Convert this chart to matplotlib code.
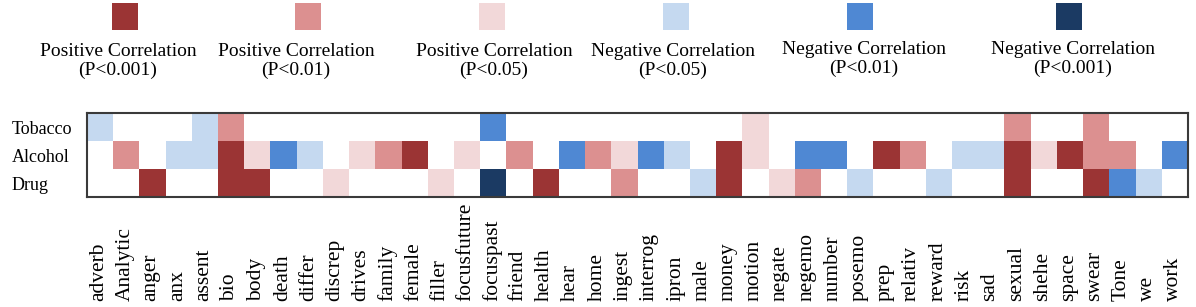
import numpy as np
import matplotlib
matplotlib.use("Agg")
import matplotlib.pyplot as plt
from matplotlib.colors import ListedColormap, BoundaryNorm
from matplotlib.patches import Rectangle
from matplotlib.transforms import blended_transform_factory

plt.rcParams['font.family'] = ['Liberation Serif', 'DejaVu Serif']

# LIWC categories (columns)
categories = ['adverb', 'Analytic', 'anger', 'anx', 'assent', 'bio', 'body', 'death',
              'differ', 'discrep', 'drives', 'family', 'female', 'filler', 'focusfuture',
              'focuspast', 'friend', 'health', 'hear', 'home', 'ingest', 'interrog',
              'ipron', 'male', 'money', 'motion', 'negate', 'negemo', 'number', 'posemo',
              'prep', 'relativ', 'reward', 'risk', 'sad', 'sexual', 'shehe', 'space',
              'swear', 'Tone', 'we', 'work']
rows = ['Tobacco', 'Alcohol', 'Drug']

# significance level: +3 pos p<.001, +2 pos p<.01, +1 pos p<.05, 0 none, -1..-3 negative
tobacco = [-1, 0, 0, 0, -1, 2, 0, 0, 0, 0, 0, 0, 0, 0, 0, -2, 0, 0, 0, 0, 0,
           0, 0, 0, 0, 1, 0, 0, 0, 0, 0, 0, 0, 0, 0, 2, 0, 0, 2, 0, 0, 0]
alcohol = [0, 2, 0, -1, -1, 3, 1, -2, -1, 0, 1, 2, 3, 0, 1, 0, 2, 0, -2, 2, 1,
           -2, -1, 0, 3, 1, 0, -2, -2, 0, 3, 2, 0, -1, -1, 3, 1, 3, 2, 2, 0, -2]
drug = [0, 0, 3, 0, 0, 3, 3, 0, 0, 1, 0, 0, 0, 1, 0, -3, 0, 3, 0, 0, 2,
        0, 0, -1, 3, 0, 1, 2, 0, -1, 0, 0, -1, 0, 0, 3, 0, 0, 3, -2, -1, 0]

legend_labels = ['Positive Correlation\n(P<0.001)', 'Positive Correlation\n(P<0.01)',
                 'Positive Correlation\n(P<0.05)', 'Negative Correlation\n(P<0.05)',
                 'Negative Correlation\n(P<0.01)', 'Negative Correlation\n(P<0.001)']
legend_levels = [3, 2, 1, -1, -2, -3]

colors = ['#1b3a63', '#4f88d3', '#c5d9f0', '#ffffff', '#f2d8d9', '#dc9090', '#9b3434']
cmap = ListedColormap(colors)
norm = BoundaryNorm(np.arange(-3.5, 4.5, 1), cmap.N)

W, H = 1196, 307
fig = plt.figure(figsize=(W / 100, H / 100), dpi=100)
ax = fig.add_axes([87 / W, 1 - 197 / H, (1188 - 87) / W, (197 - 113) / H])

data = np.array([tobacco, alcohol, drug])
ax.pcolormesh(np.arange(len(categories) + 1), np.arange(len(rows) + 1), data,
              cmap=cmap, norm=norm)
ax.set_xlim(0, len(categories))
ax.set_ylim(len(rows), 0)
ax.set_xticks([])
ax.set_yticks([])
for s in ax.spines.values():
    s.set_color('#3a3a3a')
    s.set_linewidth(1.5)

# row labels
tr_rows = blended_transform_factory(fig.transFigure, ax.transData)
for i, r in enumerate(rows):
    ax.text(12 / W, i + 0.6, r, transform=tr_rows, ha='left', va='center', fontsize=13)

# column labels, bottom aligned, rotated
tr_cols = blended_transform_factory(ax.transData, fig.transFigure)
for j, c in enumerate(categories):
    ax.text(j + 0.45, 1 - 301 / H, c, transform=tr_cols, rotation=90,
            ha='center', va='bottom', fontsize=15.5)

# legend
sq_x = [125, 308, 492, 676, 860, 1069]
lab_x = [118, 296, 494, 673, 864, 1073]
lab_y = [50, 50, 50, 50, 48, 48]
for lev, lab, sx, lx, ly in zip(legend_levels, legend_labels, sq_x, lab_x, lab_y):
    fig.add_artist(Rectangle(((sx - 13) / W, 1 - 30 / H), 26 / W, 27 / H,
                             transform=fig.transFigure, color=cmap(norm(lev)), lw=0))
    fig.text(lx / W, 1 - (ly + 11) / H, lab, ha='center', va='center',
             fontsize=14, linespacing=1.1)

fig.savefig('out.png', dpi=100)
